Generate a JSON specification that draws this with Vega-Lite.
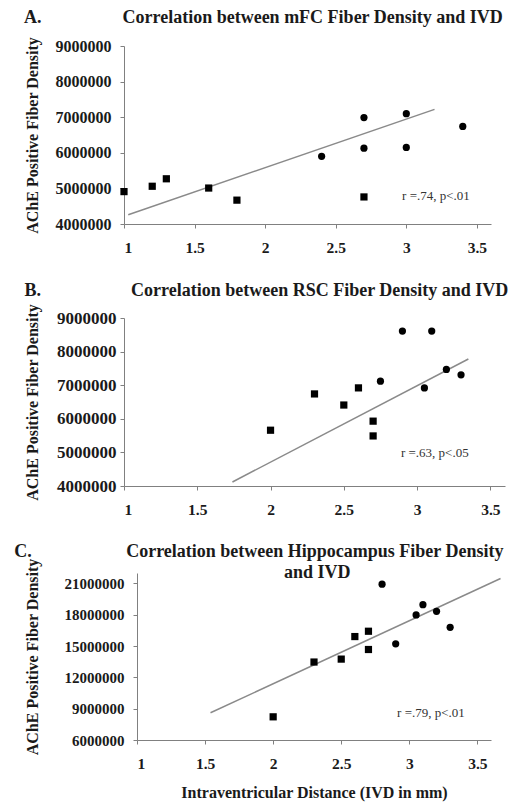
{
  "$schema": "https://vega.github.io/schema/vega-lite/v6.json",
  "padding": {"left": 13, "top": 8, "right": 2, "bottom": 2},
  "background": "white",
  "spacing": 25,
  "align": "none",
  "config": {
    "font": "Liberation Serif",
    "view": {"stroke": null},
    "axis": {
      "grid": false,
      "domainColor": "#808080",
      "tickColor": "#808080",
      "tickSize": 4,
      "labelOverlap": false,
      "labelFont": "Liberation Serif",
      "labelFontWeight": "bold",
      "labelFontSize": 15.5,
      "labelColor": "#1a1a1a",
      "titleFont": "Liberation Serif",
      "titleFontWeight": "bold",
      "titleFontSize": 16,
      "titleColor": "#1a1a1a"
    },
    "axisY": {"labelPadding": 8, "titlePadding": 14, "tickCount": 10},
    "axisX": {"labelPadding": 12, "titlePadding": 13, "tickCount": 10},
    "title": {
      "font": "Liberation Serif",
      "fontWeight": "bold",
      "fontSize": 18,
      "color": "#1a1a1a",
      "anchor": "start",
      "frame": "bounds",
      "offset": 10
    }
  },
  "datasets": {
    "points": [
      {"panel": "A", "group": "square", "ivd": 1.0, "density": 4910000},
      {"panel": "A", "group": "square", "ivd": 1.2, "density": 5060000},
      {"panel": "A", "group": "square", "ivd": 1.3, "density": 5270000},
      {"panel": "A", "group": "square", "ivd": 1.6, "density": 5010000},
      {"panel": "A", "group": "square", "ivd": 1.8, "density": 4670000},
      {"panel": "A", "group": "square", "ivd": 2.7, "density": 4760000},
      {"panel": "A", "group": "circle", "ivd": 2.4, "density": 5900000},
      {"panel": "A", "group": "circle", "ivd": 2.7, "density": 6990000},
      {"panel": "A", "group": "circle", "ivd": 2.7, "density": 6130000},
      {"panel": "A", "group": "circle", "ivd": 3.0, "density": 7100000},
      {"panel": "A", "group": "circle", "ivd": 3.0, "density": 6150000},
      {"panel": "A", "group": "circle", "ivd": 3.4, "density": 6740000},
      {"panel": "B", "group": "square", "ivd": 2.0, "density": 5660000},
      {"panel": "B", "group": "square", "ivd": 2.3, "density": 6740000},
      {"panel": "B", "group": "square", "ivd": 2.5, "density": 6410000},
      {"panel": "B", "group": "square", "ivd": 2.6, "density": 6920000},
      {"panel": "B", "group": "square", "ivd": 2.7, "density": 5930000},
      {"panel": "B", "group": "square", "ivd": 2.7, "density": 5490000},
      {"panel": "B", "group": "circle", "ivd": 2.75, "density": 7120000},
      {"panel": "B", "group": "circle", "ivd": 2.9, "density": 8610000},
      {"panel": "B", "group": "circle", "ivd": 3.1, "density": 8610000},
      {"panel": "B", "group": "circle", "ivd": 3.05, "density": 6920000},
      {"panel": "B", "group": "circle", "ivd": 3.2, "density": 7470000},
      {"panel": "B", "group": "circle", "ivd": 3.3, "density": 7310000},
      {"panel": "C", "group": "square", "ivd": 2.0, "density": 8220000},
      {"panel": "C", "group": "square", "ivd": 2.3, "density": 13470000},
      {"panel": "C", "group": "square", "ivd": 2.5, "density": 13750000},
      {"panel": "C", "group": "square", "ivd": 2.6, "density": 15910000},
      {"panel": "C", "group": "square", "ivd": 2.7, "density": 16420000},
      {"panel": "C", "group": "square", "ivd": 2.7, "density": 14670000},
      {"panel": "C", "group": "circle", "ivd": 2.8, "density": 20930000},
      {"panel": "C", "group": "circle", "ivd": 2.9, "density": 15210000},
      {"panel": "C", "group": "circle", "ivd": 3.05, "density": 17980000},
      {"panel": "C", "group": "circle", "ivd": 3.1, "density": 18960000},
      {"panel": "C", "group": "circle", "ivd": 3.2, "density": 18330000},
      {"panel": "C", "group": "circle", "ivd": 3.3, "density": 16800000}
    ],
    "trend": [
      {"panel": "A", "ivd": 1.03, "density": 4260000},
      {"panel": "A", "ivd": 3.2, "density": 7220000},
      {"panel": "B", "ivd": 1.74, "density": 4120000},
      {"panel": "B", "ivd": 3.35, "density": 7780000},
      {"panel": "C", "ivd": 1.54, "density": 8610000},
      {"panel": "C", "ivd": 3.67, "density": 21470000}
    ],
    "notes": [
      {"panel": "A", "ivd": 2.97, "density": 4790000, "label": "r =.74, p<.01"},
      {"panel": "B", "ivd": 2.89, "density": 4980000, "label": "r =.63, p<.05"},
      {"panel": "C", "ivd": 2.91, "density": 8580000, "label": "r =.79, p<.01"}
    ]
  },
  "vconcat": [
    {
      "width": 367,
      "height": 178,
      "title": {"text": "A.\u00a0\u00a0\u00a0\u00a0\u00a0\u00a0\u00a0\u00a0\u00a0\u00a0\u00a0\u00a0\u00a0\u00a0\u00a0\u00a0\u00a0\u00a0Correlation between mFC Fiber Density and IVD"},
      "layer": [
        {
          "data": {"name": "trend"},
          "transform": [{"filter": "datum.panel == 'A'"}],
          "mark": {"type": "line", "color": "#8a8a8a", "strokeWidth": 1.5},
          "encoding": {
            "x": {"field": "ivd", "type": "quantitative", "scale": {"domain": [1, 3.5]}, "axis": {"values": [1, 1.5, 2, 2.5, 3, 3.5], "format": ".1~f", "title": null, "labelFontSize": 15.5}},
            "y": {"field": "density", "type": "quantitative", "scale": {"domain": [4000000, 9000000]}, "axis": {"values": [4000000, 5000000, 6000000, 7000000, 8000000, 9000000], "tickCount": 10, "format": "d", "title": "AChE Positive Fiber Density", "labelFontSize": 16, "labelPadding": 9, "titlePadding": 15}}
          }
        },
        {
          "data": {"name": "points"},
          "transform": [{"filter": "datum.panel == 'A'"}],
          "mark": {"type": "point", "filled": true, "color": "black", "opacity": 1, "size": 52},
          "encoding": {
            "x": {"field": "ivd", "type": "quantitative"},
            "y": {"field": "density", "type": "quantitative"},
            "shape": {"field": "group", "type": "nominal", "scale": {"domain": ["square", "circle"], "range": ["square", "circle"]}, "legend": null}
          }
        },
        {
          "data": {"name": "notes"},
          "transform": [{"filter": "datum.panel == 'A'"}],
          "mark": {"type": "text", "align": "left", "baseline": "middle", "fontSize": 13, "color": "#333333", "font": "Liberation Serif"},
          "encoding": {
            "x": {"field": "ivd", "type": "quantitative"},
            "y": {"field": "density", "type": "quantitative"},
            "text": {"field": "label"}
          }
        }
      ]
    },
    {
      "width": 381,
      "height": 168,
      "title": {"text": "B.\u00a0\u00a0\u00a0\u00a0\u00a0\u00a0\u00a0\u00a0\u00a0\u00a0\u00a0\u00a0\u00a0\u00a0\u00a0\u00a0\u00a0\u00a0\u00a0\u00a0Correlation between RSC Fiber Density and IVD", "offset": 4},
      "layer": [
        {
          "data": {"name": "trend"},
          "transform": [{"filter": "datum.panel == 'B'"}],
          "mark": {"type": "line", "color": "#8a8a8a", "strokeWidth": 1.5},
          "encoding": {
            "x": {"field": "ivd", "type": "quantitative", "scale": {"domain": [1, 3.5]}, "axis": {"values": [1, 1.5, 2, 2.5, 3, 3.5], "format": ".1~f", "title": null, "labelFontSize": 15.5}},
            "y": {"field": "density", "type": "quantitative", "scale": {"domain": [4000000, 9000000]}, "axis": {"values": [4000000, 5000000, 6000000, 7000000, 8000000, 9000000], "tickCount": 10, "format": "d", "title": "AChE Positive Fiber Density", "labelFontSize": 17, "labelPadding": 4, "titlePadding": 16}}
          }
        },
        {
          "data": {"name": "points"},
          "transform": [{"filter": "datum.panel == 'B'"}],
          "mark": {"type": "point", "filled": true, "color": "black", "opacity": 1, "size": 52},
          "encoding": {
            "x": {"field": "ivd", "type": "quantitative"},
            "y": {"field": "density", "type": "quantitative"},
            "shape": {"field": "group", "type": "nominal", "scale": {"domain": ["square", "circle"], "range": ["square", "circle"]}, "legend": null}
          }
        },
        {
          "data": {"name": "notes"},
          "transform": [{"filter": "datum.panel == 'B'"}],
          "mark": {"type": "text", "align": "left", "baseline": "middle", "fontSize": 13, "color": "#333333", "font": "Liberation Serif"},
          "encoding": {
            "x": {"field": "ivd", "type": "quantitative"},
            "y": {"field": "density", "type": "quantitative"},
            "text": {"field": "label"}
          }
        }
      ]
    },
    {
      "width": 367,
      "height": 167,
      "title": {"text": ["C.\u00a0\u00a0\u00a0\u00a0\u00a0\u00a0\u00a0\u00a0\u00a0\u00a0\u00a0\u00a0\u00a0\u00a0\u00a0\u00a0\u00a0\u00a0\u00a0\u00a0\u00a0Correlation between Hippocampus Fiber Density", "and IVD\u00a0\u00a0\u00a0\u00a0\u00a0\u00a0\u00a0\u00a0\u00a0\u00a0\u00a0\u00a0\u00a0\u00a0\u00a0\u00a0\u00a0\u00a0\u00a0\u00a0\u00a0\u00a0\u00a0\u00a0\u00a0\u00a0\u00a0\u00a0\u00a0\u00a0\u00a0\u00a0\u00a0\u00a0\u200b"], "anchor": "end", "lineHeight": 21, "offset": -24},
      "layer": [
        {
          "data": {"name": "trend"},
          "transform": [{"filter": "datum.panel == 'C'"}],
          "mark": {"type": "line", "color": "#8a8a8a", "strokeWidth": 1.5},
          "encoding": {
            "x": {"field": "ivd", "type": "quantitative", "scale": {"domain": [1, 3.5], "range": [13, 367]}, "axis": {"values": [1, 1.5, 2, 2.5, 3, 3.5], "format": ".1~f", "title": "Intraventricular Distance (IVD in mm)", "labelFontSize": 15.5}},
            "y": {"field": "density", "type": "quantitative", "scale": {"domain": [6000000, 22000000]}, "axis": {"values": [6000000, 9000000, 12000000, 15000000, 18000000, 21000000], "tickCount": 10, "format": "d", "title": "AChE Positive Fiber Density", "labelFontSize": 15, "labelPadding": 9, "titlePadding": 24, "offset": -13}}
          }
        },
        {
          "data": {"name": "points"},
          "transform": [{"filter": "datum.panel == 'C'"}],
          "mark": {"type": "point", "filled": true, "color": "black", "opacity": 1, "size": 52},
          "encoding": {
            "x": {"field": "ivd", "type": "quantitative"},
            "y": {"field": "density", "type": "quantitative"},
            "shape": {"field": "group", "type": "nominal", "scale": {"domain": ["square", "circle"], "range": ["square", "circle"]}, "legend": null}
          }
        },
        {
          "data": {"name": "notes"},
          "transform": [{"filter": "datum.panel == 'C'"}],
          "mark": {"type": "text", "align": "left", "baseline": "middle", "fontSize": 13, "color": "#333333", "font": "Liberation Serif"},
          "encoding": {
            "x": {"field": "ivd", "type": "quantitative"},
            "y": {"field": "density", "type": "quantitative"},
            "text": {"field": "label"}
          }
        }
      ]
    }
  ]
}
